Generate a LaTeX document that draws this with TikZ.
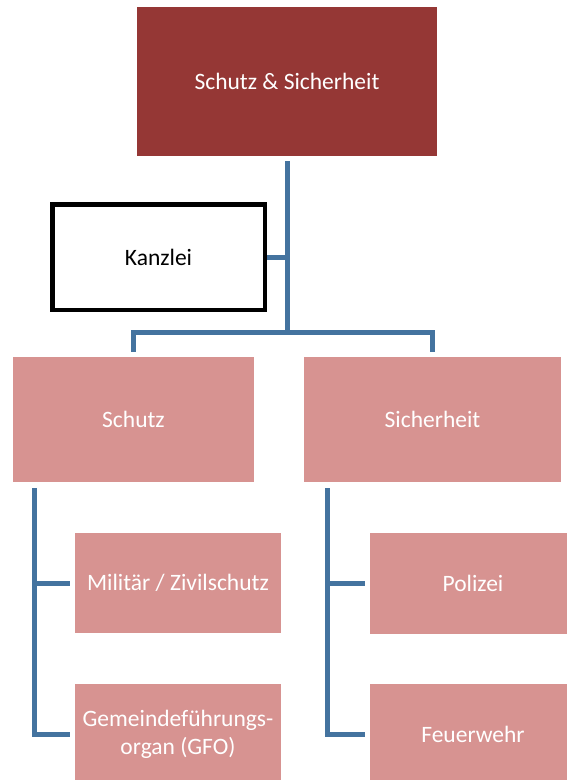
\documentclass[tikz,border=0pt]{standalone}
\usepackage{fontspec}
\setmainfont{Carlito}
\begin{document}
\definecolor{headred}{HTML}{953735}
\definecolor{unitpink}{HTML}{D79391}
\definecolor{linkblue}{HTML}{44739F}
\begin{tikzpicture}[x=1pt,y=-1pt,
  box/.style={rectangle,inner sep=2pt,align=center,font=\fontsize{23.5}{28}\selectfont},
  headbox/.style={box,fill=headred,text=white},
  unitbox/.style={box,fill=unitpink,text=white},
  staffbox/.style={box,draw=black,line width=4.5pt,fill=white,text=black},
  conn/.style={draw=linkblue,line width=5pt}]
\useasboundingbox (0,0) rectangle (566,780);

% top level
\node[headbox,minimum width=300pt,minimum height=149pt] (top) at (287,81.5) {Schutz \& Sicherheit};
% staff unit
\node[staffbox,minimum width=212.5pt,minimum height=105.5pt] (kanzlei) at (158.5,257) {Kanzlei};
% departments
\node[unitbox,minimum width=241pt,minimum height=125pt] (schutz) at (133.5,419.5) {Schutz};
\node[unitbox,minimum width=257pt,minimum height=125pt] (sich) at (432.5,419.5) {Sicherheit};
% sub-units
\node[unitbox,minimum width=206pt,minimum height=100pt] (mil) at (178,583) {Militär / Zivilschutz};
\node[unitbox,minimum width=206pt,minimum height=100pt] (gfo) at (178,734) {Gemeindeführungs-\\organ (GFO)};
\node[unitbox,minimum width=206pt,minimum height=101pt] (pol) at (473,583.5) {Polizei};
\node[unitbox,minimum width=206pt,minimum height=100pt] (fw) at (473,734) {Feuerwehr};

% connectors
\coordinate (hub) at (287,332);
\coordinate (lspine) at ([shift={(22,6)}]schutz.south west);
\coordinate (rspine) at ([shift={(24,6)}]sich.south west);
\draw[conn] ([yshift=-5]top.south) -- (hub);
\draw[conn] (kanzlei.east) -- (kanzlei.east -| hub);
\draw[conn] ([yshift=5]schutz.north) |- (hub) -| ([yshift=5]sich.north);
\draw[conn] (lspine) |- ([xshift=-5]gfo.west);
\draw[conn] (lspine |- mil.west) -- ([xshift=-5]mil.west);
\draw[conn] (rspine) |- ([xshift=-5]fw.west);
\draw[conn] (rspine |- pol.west) -- ([xshift=-5]pol.west);
\end{tikzpicture}
\end{document}
